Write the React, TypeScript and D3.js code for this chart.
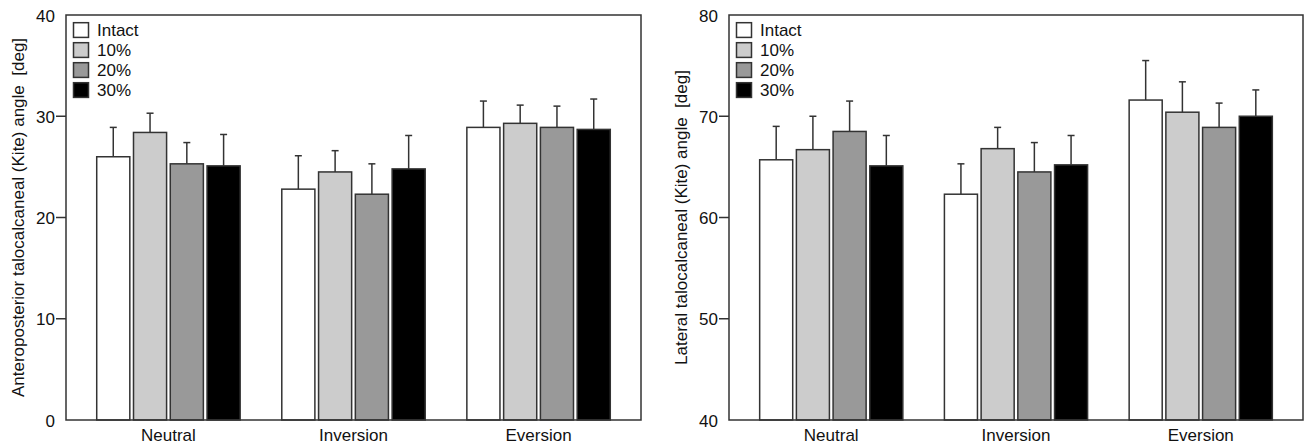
import React from "react";
import * as d3 from "d3";

const groups = ["Neutral", "Inversion", "Eversion"];
const series = ["Intact", "10%", "20%", "30%"];
const fills = ["#ffffff", "#cccccc", "#999999", "#000000"];

// anteroposterior Kite angle, mean and SD per group x series
const apMeans = [
  [26.0, 28.4, 25.3, 25.1],
  [22.8, 24.5, 22.3, 24.8],
  [28.9, 29.3, 28.9, 28.7],
];
const apErr = [
  [2.9, 1.9, 2.1, 3.1],
  [3.3, 2.1, 3.0, 3.3],
  [2.6, 1.8, 2.1, 3.0],
];

// lateral Kite angle
const latMeans = [
  [65.7, 66.7, 68.5, 65.1],
  [62.3, 66.8, 64.5, 65.2],
  [71.6, 70.4, 68.9, 70.0],
];
const latErr = [
  [3.3, 3.3, 3.0, 3.0],
  [3.0, 2.1, 2.9, 2.9],
  [3.9, 3.0, 2.4, 2.6],
];

const apTicks = [0, 10, 20, 30, 40];
const latTicks = [40, 50, 60, 70, 80];

const FONT = "'Liberation Sans', Arial, Helvetica, sans-serif";
const INK = "#333";
const FS = 17;

type PanelProps = {
  x0: number;
  x1: number;
  domain: [number, number];
  ticks: number[];
  means: number[][];
  errs: number[][];
  title: string;
  titleX: number;
};

const Panel = ({ x0, x1, domain, ticks, means, errs, title, titleX }: PanelProps) => {
  const top = 15;
  const bottom = 420;
  const y = d3.scaleLinear().domain(domain).range([bottom, top]);
  const xg = d3
    .scaleBand()
    .domain(groups)
    .range([x0, x1])
    .paddingInner(0.225)
    .paddingOuter(0.166);
  const xs = d3.scaleBand().domain(series).range([0, xg.bandwidth()]).paddingInner(0.1);
  const cap = 3.5;

  return (
    <g>
      {/* bars + error bars */}
      {groups.map((g, gi) =>
        series.map((s, si) => {
          const bx = (xg(g) as number) + (xs(s) as number);
          const w = xs.bandwidth();
          const v = means[gi][si];
          const e = errs[gi][si];
          const cx = bx + w / 2;
          return (
            <g key={g + s}>
              <line x1={cx} x2={cx} y1={y(v)} y2={y(v + e)} stroke={INK} strokeWidth={1.5} />
              <line x1={cx - cap} x2={cx + cap} y1={y(v + e)} y2={y(v + e)} stroke={INK} strokeWidth={1.5} />
              <rect
                x={bx}
                y={y(v)}
                width={w}
                height={bottom - y(v)}
                fill={fills[si]}
                stroke={INK}
                strokeWidth={1.5}
              />
            </g>
          );
        })
      )}

      {/* frame */}
      <rect x={x0} y={top} width={x1 - x0} height={bottom - top} fill="none" stroke={INK} strokeWidth={1.5} />

      {/* y ticks */}
      {ticks.map((t, i) => (
        <g key={t}>
          {i > 0 && i < ticks.length - 1 && (
            <line x1={x0 - 10} x2={x0} y1={y(t)} y2={y(t)} stroke={INK} strokeWidth={1.5} />
          )}
          <text
            x={x0 - 11}
            y={y(t) + 1}
            textAnchor="end"
            dominantBaseline="central"
            fontSize={FS}
            fontFamily={FONT}
            fill="#111"
          >
            {t}
          </text>
        </g>
      ))}

      {/* x labels */}
      {groups.map((g) => (
        <text
          key={g}
          x={(xg(g) as number) + xg.bandwidth() / 2}
          y={441}
          textAnchor="middle"
          fontSize={FS}
          fontFamily={FONT}
          fill="#111"
        >
          {g}
        </text>
      ))}

      {/* y title */}
      <text
        transform={`translate(${titleX},${(top + bottom) / 2}) rotate(-90)`}
        textAnchor="middle"
        dominantBaseline="central"
        fontSize={FS}
        fontFamily={FONT}
        fill="#111"
        style={{ whiteSpace: "pre" }}
      >
        {title}
      </text>

      {/* legend */}
      {series.map((s, si) => (
        <g key={s} transform={`translate(${x0 + 7.5},${top + 7.7 + si * 20})`}>
          <rect x={0} y={0} width={15} height={14.7} fill={fills[si]} stroke={INK} strokeWidth={1.5} />
          <text x={23.5} y={13.5} fontSize={FS} fontFamily={FONT} fill="#111">
            {s}
          </text>
        </g>
      ))}
    </g>
  );
};

export default function App() {
  return (
    <svg
      width={1306}
      height={448}
      style={{ position: "absolute", left: 0, top: 0, background: "#fff" }}
    >
      <Panel
        x0={66}
        x1={641}
        domain={[0, 40]}
        ticks={apTicks}
        means={apMeans}
        errs={apErr}
        title="Anteroposterior talocalcaneal (Kite) angle  [deg]"
        titleX={18.5}
      />
      <Panel
        x0={729}
        x1={1303}
        domain={[40, 80]}
        ticks={latTicks}
        means={latMeans}
        errs={latErr}
        title="Lateral talocalcaneal (Kite) angle  [deg]"
        titleX={681.5}
      />
    </svg>
  );
}
